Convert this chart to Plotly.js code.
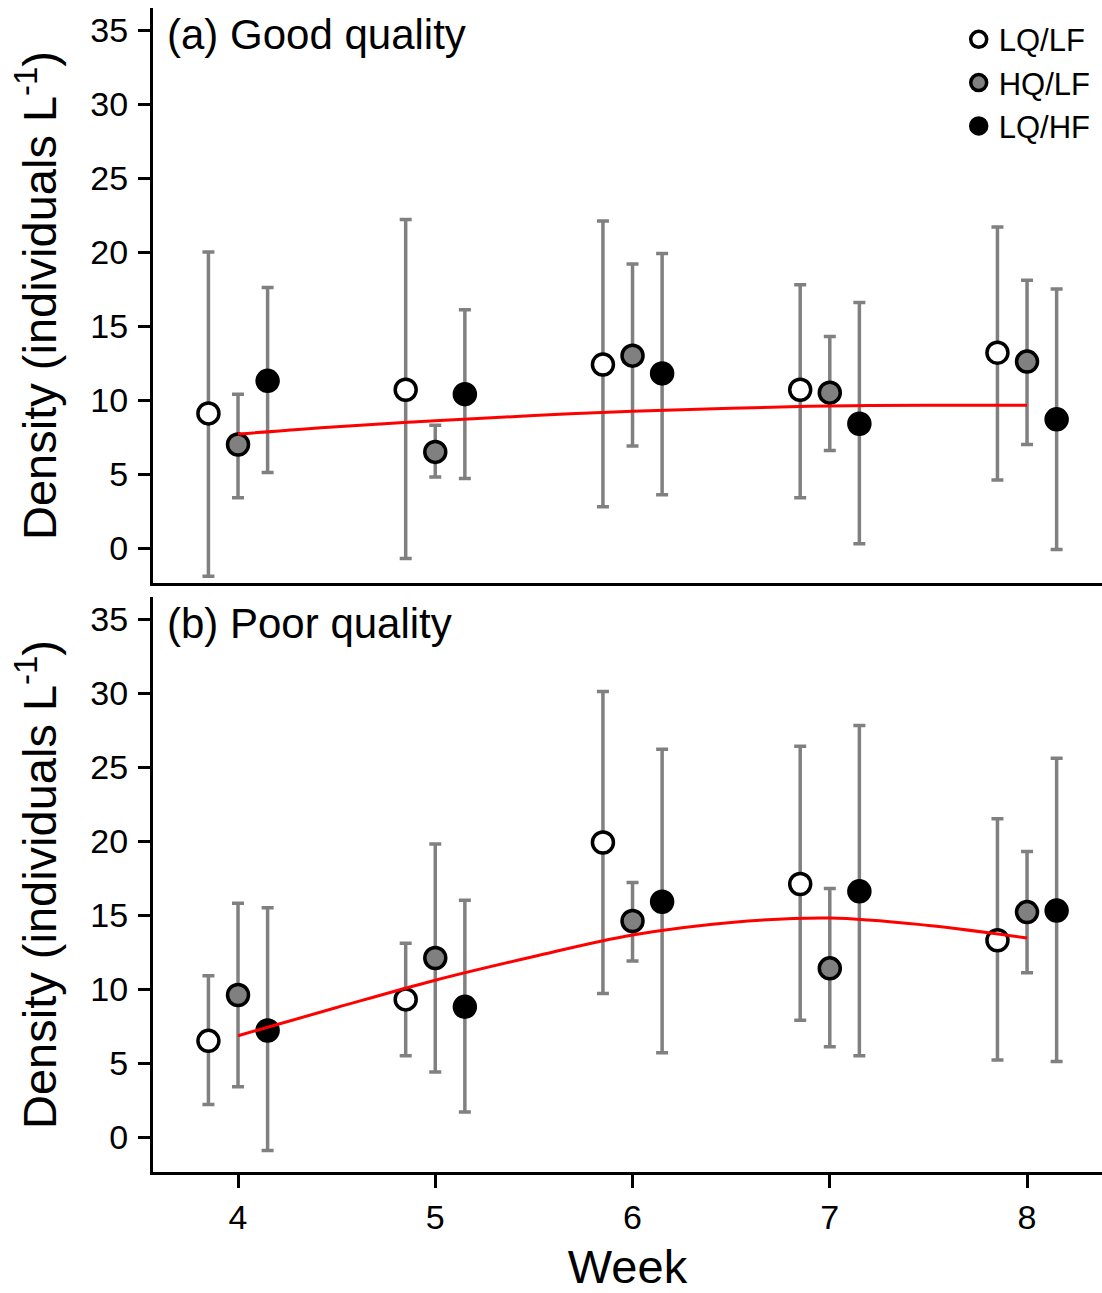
<!DOCTYPE html>
<html>
<head>
<meta charset="utf-8">
<script src="https://cdn.plot.ly/plotly-3.0.1.min.js"></script>
<style>html,body{margin:0;padding:0;background:#fff;}#chart{width:1102px;height:1293px;}</style>
</head>
<body>
<div id="chart"></div>
<script>
// ---- data ----
const weeks = [4, 5, 6, 7, 8];
const seriesNames = ["LQ/LF", "HQ/LF", "LQ/HF"];

// (a) Good quality
const goodLQLF = [9.1, 10.7, 12.4, 10.7, 13.2];
const goodLQLFUpper = [20.0, 22.2, 22.1, 17.8, 21.7];
const goodLQLFLower = [-1.9, -0.7, 2.8, 3.4, 4.6];
const goodHQLF = [7.0, 6.5, 13.0, 10.5, 12.6];
const goodHQLFUpper = [10.4, 8.3, 19.2, 14.3, 18.1];
const goodHQLFLower = [3.4, 4.8, 6.9, 6.6, 7.0];
const goodLQHF = [11.3, 10.4, 11.8, 8.4, 8.7];
const goodLQHFUpper = [17.6, 16.1, 19.9, 16.6, 17.5];
const goodLQHFLower = [5.1, 4.7, 3.6, 0.3, -0.1];

// (b) Poor quality
const poorLQLF = [6.5, 9.3, 19.9, 17.1, 13.3];
const poorLQLFUpper = [10.9, 13.1, 30.1, 26.4, 21.5];
const poorLQLFLower = [2.2, 5.5, 9.7, 7.9, 5.2];
const poorHQLF = [9.6, 12.1, 14.6, 11.4, 15.2];
const poorHQLFUpper = [15.8, 19.8, 17.2, 16.8, 19.3];
const poorHQLFLower = [3.4, 4.4, 11.9, 6.1, 11.1];
const poorLQHF = [7.2, 8.8, 15.9, 16.6, 15.3];
const poorLQHFUpper = [15.5, 16.0, 26.2, 27.8, 25.6];
const poorLQHFLower = [-0.9, 1.7, 5.7, 5.5, 5.1];

// fitted curves (red)
const fitWeeks = [4, 4.5, 5, 5.5, 6, 6.5, 7, 7.5, 8];
const fitGood = [7.7, 8.2, 8.6, 8.95, 9.25, 9.45, 9.6, 9.65, 9.65];
const fitPoor = [6.85, 8.75, 10.6, 12.2, 13.65, 14.5, 14.8, 14.3, 13.45];

const xTickVals = [4, 5, 6, 7, 8];
const yTickVals = [0, 5, 10, 15, 20, 25, 30, 35];

// ---- styling ----
const FONT = "Liberation Sans, Arial, sans-serif";
const offsets = [-0.15, 0, 0.15];
const fills = ["#ffffff", "#808080", "#000000"];

function series(idx, mean, upper, lower, xa, ya, showLegend) {
  return {
    type: "scatter", mode: "markers",
    name: seriesNames[idx],
    x: weeks.map(w => w + offsets[idx]),
    y: mean,
    xaxis: xa, yaxis: ya,
    showlegend: showLegend,
    marker: {size: 21, color: fills[idx], line: {color: "#000000", width: 3.5}},
    error_y: {
      type: "data", symmetric: false,
      array: upper.map((u, i) => u - mean[i]),
      arrayminus: mean.map((m, i) => m - lower[i]),
      color: "#808080", thickness: 3.5, width: 6
    },
    hoverinfo: "x+y"
  };
}

const traces = [
  series(0, goodLQLF, goodLQLFUpper, goodLQLFLower, "x", "y", true),
  series(1, goodHQLF, goodHQLFUpper, goodHQLFLower, "x", "y", true),
  series(2, goodLQHF, goodLQHFUpper, goodLQHFLower, "x", "y", true),
  {type: "scatter", mode: "lines", x: fitWeeks, y: fitGood, xaxis: "x", yaxis: "y",
   line: {color: "#ff0000", width: 3, shape: "spline"}, showlegend: false},
  series(0, poorLQLF, poorLQLFUpper, poorLQLFLower, "x2", "y2", false),
  series(1, poorHQLF, poorHQLFUpper, poorHQLFLower, "x2", "y2", false),
  series(2, poorLQHF, poorLQHFUpper, poorLQHFLower, "x2", "y2", false),
  {type: "scatter", mode: "lines", x: fitWeeks, y: fitPoor, xaxis: "x2", yaxis: "y2",
   line: {color: "#ff0000", width: 3, shape: "spline"}, showlegend: false}
];

const yTitle = "Density (individuals L<sup>-1</sup>)";
const xRange = [3.569, 8.38];
const yRange = [-2.36, 36.49];

function yAxis(domain, anchor) {
  return {
    domain: domain, anchor: anchor, range: yRange,
    tickvals: yTickVals, ticks: "outside", ticklen: 12, tickwidth: 3, tickcolor: "#000",
    showline: true, linewidth: 3, linecolor: "#000", showgrid: false, zeroline: false,
    tickfont: {family: FONT, size: 34, color: "#000"},
    ticklabelstandoff: 3,
    title: {text: yTitle, font: {family: FONT, size: 47, color: "#000"}, standoff: 19}
  };
}

const layout = {
  width: 1102, height: 1293,
  margin: {l: 153, r: 0, t: 8, b: 121},
  paper_bgcolor: "#fff", plot_bgcolor: "#fff",
  font: {family: FONT, color: "#000"},
  showlegend: true,
  legend: {
    x: 0.849, xanchor: "left", y: 0.996, yanchor: "top",
    font: {family: FONT, size: 31, color: "#000"},
    bgcolor: "rgba(0,0,0,0)"
  },
  xaxis: {
    domain: [0, 1], anchor: "y", range: xRange, matches: "x2",
    showline: true, linewidth: 3, linecolor: "#000", ticks: "", showticklabels: false,
    showgrid: false, zeroline: false
  },
  yaxis: yAxis([0.506, 1], "x"),
  xaxis2: {
    domain: [0, 1], anchor: "y2", range: xRange,
    tickvals: xTickVals, ticks: "outside", ticklen: 13, tickwidth: 3, tickcolor: "#000",
    showline: true, linewidth: 3, linecolor: "#000", showgrid: false, zeroline: false,
    tickfont: {family: FONT, size: 34, color: "#000"},
    ticklabelstandoff: 0,
    title: {text: "Week", font: {family: FONT, size: 47, color: "#000"}, standoff: 30}
  },
  yaxis2: yAxis([0, 0.494], "x2"),
  annotations: [
    {text: "(a) Good quality", xref: "x domain", yref: "y domain", x: 0, y: 1,
     xanchor: "left", yanchor: "top", xshift: 12, yshift: -1, showarrow: false,
     font: {family: FONT, size: 42, color: "#000"}},
    {text: "(b) Poor quality", xref: "x2 domain", yref: "y2 domain", x: 0, y: 1,
     xanchor: "left", yanchor: "top", xshift: 12, yshift: -1, showarrow: false,
     font: {family: FONT, size: 42, color: "#000"}}
  ]
};

Plotly.newPlot("chart", traces, layout, {displayModeBar: false, staticPlot: true});
</script>
</body>
</html>
